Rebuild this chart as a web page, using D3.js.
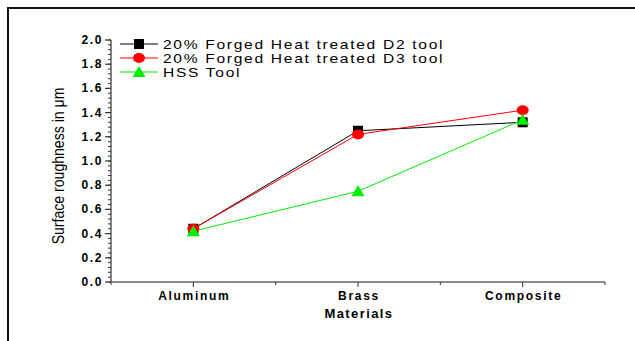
<!DOCTYPE html>
<html>
<head>
<meta charset="utf-8">
<script src="https://cdnjs.cloudflare.com/ajax/libs/d3/7.8.5/d3.min.js"></script>
<style>
  body { margin: 0; background: #fff; }
  text { font-family: "Liberation Sans", Arial, sans-serif; }
</style>
</head>
<body>
<script>
// data
var materials = ['Aluminum', 'Brass', 'Composite'];
var d2Tool = [0.44, 1.25, 1.32];
var d3Tool = [0.44, 1.22, 1.42];
var hssTool = [0.42, 0.75, 1.34];
var seriesNames = ['20% Forged Heat treated D2 tool', '20% Forged Heat treated D3 tool', 'HSS Tool'];
var yTicks = [0, 0.2, 0.4, 0.6, 0.8, 1.0, 1.2, 1.4, 1.6, 1.8, 2.0];

var series = [
  {name: seriesNames[0], values: d2Tool, color: '#000', shape: 'square'},
  {name: seriesNames[1], values: d3Tool, color: '#ff0000', shape: 'circle'},
  {name: seriesNames[2], values: hssTool, color: '#00ee00', shape: 'triangle'}
];

var svg = d3.select('body')
  .append('svg')
  .attr('width', 635)
  .attr('height', 341);

// outer frame (only left and top edges visible)
svg.append('path')
  .attr('d', 'M8,341 V8 H635')
  .attr('fill', 'none')
  .attr('stroke', '#111')
  .attr('stroke-width', 2);

var plotLeft = 111, plotRight = 605, plotTop = 40, plotBottom = 282;

var x = d3.scaleLinear().domain([0.5, 3.5]).range([plotLeft, plotRight]);
var y = d3.scaleLinear().domain([0, 2]).range([plotBottom, plotTop]);

// y axis with minor ticks
var yAxis = svg.append('g').attr('transform', 'translate(' + plotLeft + ',0)');
yAxis.append('line')
  .attr('y1', y(0)).attr('y2', y(2))
  .attr('stroke', '#333').attr('stroke-width', 1.2);
yAxis.selectAll('.minor')
  .data(d3.range(0, 2.001, 0.04))
  .enter().append('line')
  .attr('x1', -3).attr('x2', 0)
  .attr('y1', function(d) { return y(d); })
  .attr('y2', function(d) { return y(d); })
  .attr('stroke', '#333');
yAxis.selectAll('.major')
  .data(yTicks)
  .enter().append('line')
  .attr('x1', -6).attr('x2', 0)
  .attr('y1', function(d) { return y(d); })
  .attr('y2', function(d) { return y(d); })
  .attr('stroke', '#333').attr('stroke-width', 1.2);
yAxis.selectAll('.lbl')
  .data(yTicks)
  .enter().append('text')
  .attr('x', -8)
  .attr('y', function(d) { return y(d) + 4; })
  .attr('text-anchor', 'end')
  .attr('font-size', 12)
  .attr('font-weight', 'bold')
  .attr('letter-spacing', 1.6)
  .text(function(d) { return d.toFixed(1); });

// x axis
var xAxis = svg.append('g').attr('transform', 'translate(0,' + plotBottom + ')');
xAxis.append('line')
  .attr('x1', plotLeft).attr('x2', plotRight)
  .attr('stroke', '#666').attr('stroke-width', 1.5);
xAxis.selectAll('.tick')
  .data(d3.range(0.5, 3.51, 0.5))
  .enter().append('line')
  .attr('x1', function(d) { return x(d); })
  .attr('x2', function(d) { return x(d); })
  .attr('y1', 0)
  .attr('y2', function(d) { return d % 1 === 0 ? 5 : 3; })
  .attr('stroke', '#333');
xAxis.selectAll('.lbl')
  .data(materials)
  .enter().append('text')
  .attr('x', function(d, i) { return x(i + 1) + 1; })
  .attr('y', 18)
  .attr('text-anchor', 'middle')
  .attr('font-size', 12)
  .attr('font-weight', 'bold')
  .attr('letter-spacing', 1.7)
  .text(function(d) { return d; });

svg.append('text')
  .attr('x', 359)
  .attr('y', 318)
  .attr('text-anchor', 'middle')
  .attr('font-size', 13)
  .attr('font-weight', 'bold')
  .attr('letter-spacing', 1.4)
  .text('Materials');

svg.append('text')
  .attr('transform', 'translate(64,166) rotate(-90) scale(0.88,1)')
  .attr('text-anchor', 'middle')
  .attr('font-size', 16)
  .text('Surface roughness in \u03bcm');

var line = d3.line()
  .x(function(d, i) { return x(i + 1); })
  .y(function(d) { return y(d); });

function marker(g, shape, color) {
  if (shape === 'square') {
    g.append('rect').attr('x', -5).attr('y', -5).attr('width', 10).attr('height', 10).attr('fill', color);
  } else if (shape === 'circle') {
    g.append('ellipse').attr('rx', 6).attr('ry', 5).attr('fill', color);
  } else {
    g.append('path').attr('d', 'M0,-6 L6.5,5 L-6.5,5 Z').attr('fill', color);
  }
}

series.forEach(function(s) {
  svg.append('path')
    .attr('d', line(s.values))
    .attr('fill', 'none')
    .attr('stroke', s.color)
    .attr('stroke-width', 1);
});
series.forEach(function(s) {
  s.values.forEach(function(v, i) {
    var g = svg.append('g').attr('transform', 'translate(' + x(i + 1) + ',' + y(v) + ')');
    marker(g, s.shape, s.color);
  });
});

// legend
var legend = svg.append('g').attr('transform', 'translate(120,44)');
series.forEach(function(s, i) {
  var row = legend.append('g').attr('transform', 'translate(0,' + (i * 14) + ')');
  row.append('line').attr('x1', 0).attr('x2', 38).attr('stroke', s.color).attr('stroke-width', 1);
  marker(row.append('g').attr('transform', 'translate(19,0)'), s.shape, s.color);
  row.append('text')
    .attr('transform', 'translate(43,4.5) scale(1.3,1)')
    .attr('font-size', 12)
    .attr('letter-spacing', 1.3)
    .text(s.name);
});
</script>
</body>
</html>
